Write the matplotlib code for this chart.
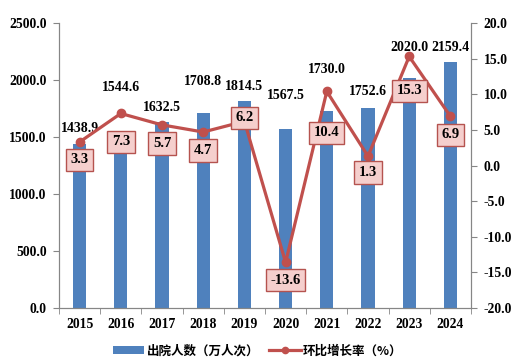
import matplotlib
matplotlib.use("Agg")
import matplotlib.pyplot as plt
from matplotlib.ticker import FormatStrFormatter
from matplotlib.lines import Line2D
from matplotlib.patches import Patch

years = ["2015", "2016", "2017", "2018", "2019", "2020", "2021", "2022", "2023", "2024"]
discharges = [1438.9, 1544.6, 1632.5, 1708.8, 1814.5, 1567.5, 1730.0, 1752.6, 2020.0, 2159.4]
growth = [3.3, 7.3, 5.7, 4.7, 6.2, -13.6, 10.4, 1.3, 15.3, 6.9]

# label placement (style only)
bar_label_y = [1579, 1930, 1763, 1991, 1947, 1868, 2096, 1895, 2281, 2289]
growth_label_y = [0.8, 3.3, 3.1, 2.1, 6.7, -16.1, 4.6, -1.0, 10.5, 4.3]

serif = ["Liberation Serif", "DejaVu Serif"]
cjk = ["Noto Sans CJK SC", "DejaVu Sans"]

bar_color = "#4F81BD"
line_color = "#C0504D"
spine_color = "#868686"

fig = plt.figure(figsize=(5.19, 3.64), dpi=100)
ax = fig.add_axes([0.1137, 0.1538, 0.9075 - 0.1137, 0.9368 - 0.1538])
ax2 = ax.twinx()

x = list(range(len(years)))
ax.bar(x, discharges, width=0.32, color=bar_color, zorder=2)
ax.set_xlim(-0.5, len(years) - 0.5)
ax.set_ylim(0, 2500)
ax.set_yticks([0, 500, 1000, 1500, 2000, 2500])
ax.yaxis.set_major_formatter(FormatStrFormatter("%.1f"))

ax.set_xticks(x)
ax.set_xticklabels(years)
ax.set_xticks([i - 0.5 for i in range(len(years) + 1)], minor=True)
ax.tick_params(axis="x", which="major", length=0, pad=7)
ax.tick_params(axis="x", which="minor", length=4, direction="out", color=spine_color)
ax.tick_params(axis="y", length=4, direction="out", color=spine_color, pad=5)

for lab in ax.get_xticklabels() + ax.get_yticklabels():
    lab.set_fontfamily(serif)
    lab.set_fontweight("bold")
    lab.set_fontsize(9.8)

for i, v in enumerate(discharges):
    ax.text(i, bar_label_y[i], f"{v:.1f}", ha="center", va="center",
            fontfamily=serif, fontweight="bold", fontsize=10, zorder=5)

ax2.plot(x, growth, color=line_color, lw=2.3, marker="o", markersize=6, zorder=3)
ax2.set_ylim(-20, 20)
ax2.set_yticks(range(-20, 21, 5))
ax2.yaxis.set_major_formatter(FormatStrFormatter("%.1f"))
ax2.tick_params(axis="y", length=4, direction="out", color=spine_color, pad=5)
for lab in ax2.get_yticklabels():
    lab.set_fontfamily(serif)
    lab.set_fontweight("bold")
    lab.set_fontsize(9.8)

for i, g in enumerate(growth):
    ax2.text(i, growth_label_y[i], f"{g:.1f}", ha="center", va="center",
             fontfamily=serif, fontweight="bold", fontsize=10.5, zorder=6,
             bbox=dict(boxstyle="square,pad=0.32", facecolor="#F5CFCD",
                       edgecolor="#B5534F", linewidth=1.0))

for a in (ax, ax2):
    a.spines["top"].set_visible(False)
    for s in ("left", "right", "bottom"):
        a.spines[s].set_color(spine_color)
ax.set_zorder(1)
ax2.set_zorder(2)
ax2.patch.set_visible(False)
ax.patch.set_visible(False)

handles = [Patch(facecolor=bar_color, edgecolor="none"),
           Line2D([], [], color=line_color, lw=2.3, marker="o", markersize=4.5)]
fig.legend(handles, ["出院人数（万人次）", "环比增长率（%）"], loc="center",
           bbox_to_anchor=(0.497, 0.036), ncol=2, frameon=False,
           prop=dict(family=cjk, weight="bold", size=9),
           handlelength=2.5, handleheight=0.55, handletextpad=0.2,
           columnspacing=0.8)

fig.savefig("out.png", dpi=100)
